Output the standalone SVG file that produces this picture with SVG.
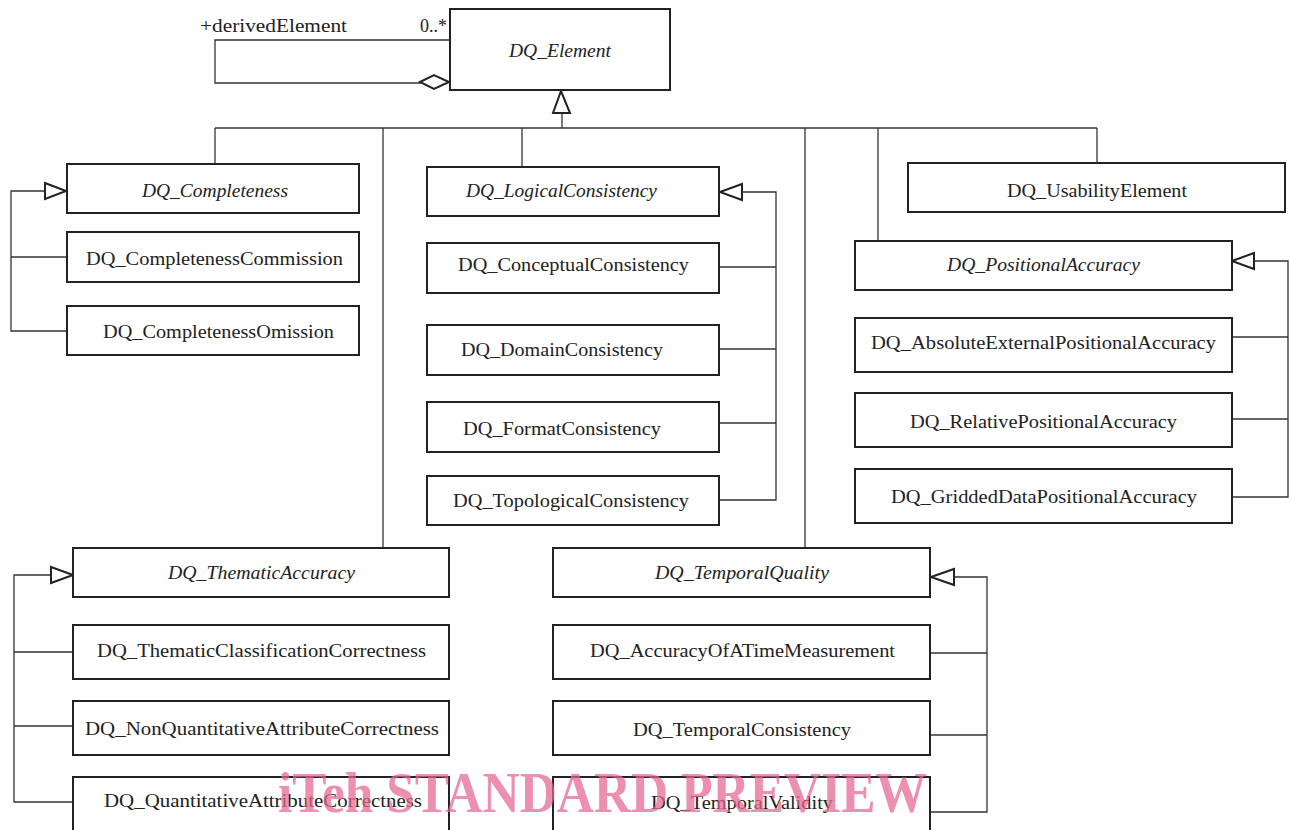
<svg xmlns="http://www.w3.org/2000/svg" width="1290" height="830" viewBox="0 0 1290 830">
<style>
.box{fill:#fff;stroke:#222;stroke-width:2}
.t{font-family:"Liberation Serif","DejaVu Serif",serif;font-size:19px;fill:#222}
.i{font-style:italic}
.c{fill:none;stroke:#333;stroke-width:1.3}
.h{fill:#fff;stroke:#222;stroke-width:2}
.wm{font-family:"Liberation Serif",serif;font-weight:bold;font-size:56px;fill:#e6668f;opacity:0.72}
</style>
<rect width="1290" height="830" fill="#fff"/>
<g id="connectors">
<polyline class="c" points="449,40 215,40 215,83 421,83"/>
<polygon class="h" points="420,82 434,75 449,82 434,89"/>
<text class="t" x="200" y="32" textLength="147" lengthAdjust="spacingAndGlyphs">+derivedElement</text>
<text class="t" x="420" y="32" textLength="27" lengthAdjust="spacingAndGlyphs">0..*</text>
<line class="c" x1="562" y1="113" x2="562" y2="128"/>
<polyline class="c" points="215,128 1097,128"/>
<line class="c" x1="215" y1="128" x2="215" y2="164"/>
<line class="c" x1="383" y1="128" x2="383" y2="548"/>
<line class="c" x1="522" y1="128" x2="522" y2="167"/>
<line class="c" x1="805" y1="128" x2="805" y2="548"/>
<line class="c" x1="878" y1="128" x2="878" y2="241"/>
<line class="c" x1="1097" y1="128" x2="1097" y2="163"/>
<polygon class="h" points="561,91 553,113 570,113"/>
<polyline class="c" points="45,191 11,191 11,331 66,331"/>
<line class="c" x1="11" y1="257" x2="66" y2="257"/>
<polygon class="h" points="66,191 45,183 45,199"/>
<polyline class="c" points="742,192 776,192 776,500 719,500"/>
<line class="c" x1="719" y1="267" x2="776" y2="267"/>
<line class="c" x1="719" y1="349" x2="776" y2="349"/>
<line class="c" x1="719" y1="423" x2="776" y2="423"/>
<polygon class="h" points="720,192 742,184 742,200"/>
<polyline class="c" points="1254,261 1288,261 1288,497 1232,497"/>
<line class="c" x1="1232" y1="337" x2="1288" y2="337"/>
<line class="c" x1="1232" y1="419" x2="1288" y2="419"/>
<polygon class="h" points="1232,261 1254,253 1254,269"/>
<polyline class="c" points="51,575 14,575 14,802 73,802"/>
<line class="c" x1="14" y1="652" x2="73" y2="652"/>
<line class="c" x1="14" y1="726" x2="73" y2="726"/>
<polygon class="h" points="73,575 51,567 51,583"/>
<polyline class="c" points="954,577 987,577 987,812 930,812"/>
<line class="c" x1="930" y1="653" x2="987" y2="653"/>
<line class="c" x1="930" y1="735" x2="987" y2="735"/>
<polygon class="h" points="931,577 954,569 954,585"/>
</g>
<g id="DQ_Element"><rect class="box" x="450" y="9" width="220" height="81"/><text class="t i" x="509" y="57" textLength="102" lengthAdjust="spacingAndGlyphs">DQ_Element</text></g>
<g id="DQ_Completeness"><rect class="box" x="67" y="164" width="292" height="49"/><text class="t i" x="142" y="197" textLength="146" lengthAdjust="spacingAndGlyphs">DQ_Completeness</text></g>
<g id="DQ_CompletenessCommission"><rect class="box" x="67" y="232" width="292" height="50"/><text class="t" x="86" y="265" textLength="257" lengthAdjust="spacingAndGlyphs">DQ_CompletenessCommission</text></g>
<g id="DQ_CompletenessOmission"><rect class="box" x="67" y="306" width="292" height="49"/><text class="t" x="103" y="338" textLength="231" lengthAdjust="spacingAndGlyphs">DQ_CompletenessOmission</text></g>
<g id="DQ_LogicalConsistency"><rect class="box" x="427" y="167" width="292" height="49"/><text class="t i" x="466" y="197" textLength="191" lengthAdjust="spacingAndGlyphs">DQ_LogicalConsistency</text></g>
<g id="DQ_ConceptualConsistency"><rect class="box" x="427" y="243" width="292" height="50"/><text class="t" x="458" y="271" textLength="231" lengthAdjust="spacingAndGlyphs">DQ_ConceptualConsistency</text></g>
<g id="DQ_DomainConsistency"><rect class="box" x="427" y="325" width="292" height="50"/><text class="t" x="461" y="356" textLength="202" lengthAdjust="spacingAndGlyphs">DQ_DomainConsistency</text></g>
<g id="DQ_FormatConsistency"><rect class="box" x="427" y="402" width="292" height="50"/><text class="t" x="463" y="435" textLength="198" lengthAdjust="spacingAndGlyphs">DQ_FormatConsistency</text></g>
<g id="DQ_TopologicalConsistency"><rect class="box" x="427" y="476" width="292" height="49"/><text class="t" x="453" y="507" textLength="236" lengthAdjust="spacingAndGlyphs">DQ_TopologicalConsistency</text></g>
<g id="DQ_UsabilityElement"><rect class="box" x="908" y="163" width="377" height="49"/><text class="t" x="1007" y="197" textLength="180" lengthAdjust="spacingAndGlyphs">DQ_UsabilityElement</text></g>
<g id="DQ_PositionalAccuracy"><rect class="box" x="855" y="241" width="377" height="49"/><text class="t i" x="947" y="271" textLength="193" lengthAdjust="spacingAndGlyphs">DQ_PositionalAccuracy</text></g>
<g id="DQ_AbsoluteExternalPositionalAccuracy"><rect class="box" x="855" y="318" width="377" height="54"/><text class="t" x="871" y="349" textLength="345" lengthAdjust="spacingAndGlyphs">DQ_AbsoluteExternalPositionalAccuracy</text></g>
<g id="DQ_RelativePositionalAccuracy"><rect class="box" x="855" y="393" width="377" height="54"/><text class="t" x="910" y="428" textLength="267" lengthAdjust="spacingAndGlyphs">DQ_RelativePositionalAccuracy</text></g>
<g id="DQ_GriddedDataPositionalAccuracy"><rect class="box" x="855" y="469" width="377" height="54"/><text class="t" x="891" y="503" textLength="306" lengthAdjust="spacingAndGlyphs">DQ_GriddedDataPositionalAccuracy</text></g>
<g id="DQ_ThematicAccuracy"><rect class="box" x="73" y="548" width="376" height="49"/><text class="t i" x="168" y="579" textLength="187" lengthAdjust="spacingAndGlyphs">DQ_ThematicAccuracy</text></g>
<g id="DQ_ThematicClassificationCorrectness"><rect class="box" x="73" y="625" width="376" height="54"/><text class="t" x="97" y="657" textLength="329" lengthAdjust="spacingAndGlyphs">DQ_ThematicClassificationCorrectness</text></g>
<g id="DQ_NonQuantitativeAttributeCorrectness"><rect class="box" x="73" y="701" width="376" height="54"/><text class="t" x="85" y="735" textLength="354" lengthAdjust="spacingAndGlyphs">DQ_NonQuantitativeAttributeCorrectness</text></g>
<g id="DQ_QuantitativeAttributeCorrectness"><rect class="box" x="73" y="777" width="376" height="60"/><text class="t" x="104" y="807" textLength="318" lengthAdjust="spacingAndGlyphs">DQ_QuantitativeAttributeCorrectness</text></g>
<g id="DQ_TemporalQuality"><rect class="box" x="553" y="548" width="377" height="49"/><text class="t i" x="655" y="579" textLength="174" lengthAdjust="spacingAndGlyphs">DQ_TemporalQuality</text></g>
<g id="DQ_AccuracyOfATimeMeasurement"><rect class="box" x="553" y="625" width="377" height="54"/><text class="t" x="590" y="657" textLength="305" lengthAdjust="spacingAndGlyphs">DQ_AccuracyOfATimeMeasurement</text></g>
<g id="DQ_TemporalConsistency"><rect class="box" x="553" y="701" width="377" height="54"/><text class="t" x="633" y="736" textLength="218" lengthAdjust="spacingAndGlyphs">DQ_TemporalConsistency</text></g>
<g id="DQ_TemporalValidity"><rect class="box" x="553" y="777" width="377" height="60"/><text class="t" x="651" y="809" textLength="182" lengthAdjust="spacingAndGlyphs">DQ_TemporalValidity</text></g>
<text class="wm" x="278" y="812" textLength="649" lengthAdjust="spacingAndGlyphs">iTeh STANDARD PREVIEW</text>
</svg>
